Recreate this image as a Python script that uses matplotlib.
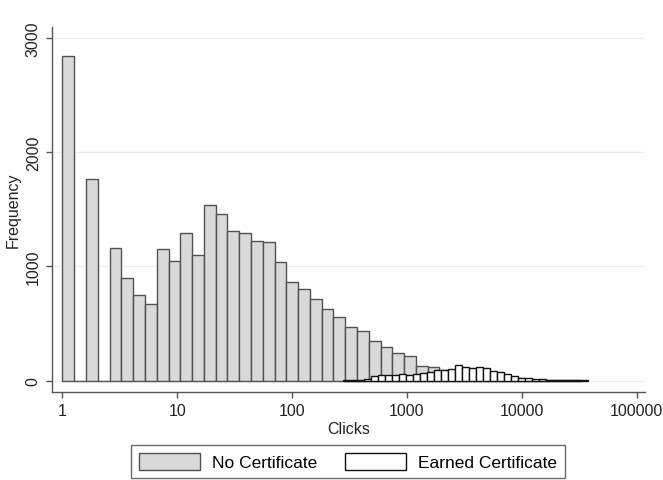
import numpy as np
import matplotlib
matplotlib.use("Agg")
import matplotlib.pyplot as plt
from matplotlib.patches import Patch

plt.rcParams["font.family"] = ["Liberation Sans", "DejaVu Sans"]

# histogram bins are in log10(clicks)
NO_CERT_START = 0.0
NO_CERT_WIDTH = 0.1026
no_cert_counts = [2840, 0, 1766, 0, 1159, 902, 748, 670, 1156, 1050,
                  1290, 1103, 1538, 1462, 1307, 1291, 1220, 1212, 1037, 868,
                  803, 715, 628, 555, 473, 438, 350, 292, 243, 219,
                  126, 124, 90, 75, 60, 50, 40, 30, 22, 15,
                  10, 6, 4, 2]

CERT_START = 2.443
CERT_WIDTH = 0.061
cert_counts = [3, 5, 10, 18, 40, 48, 50, 52, 55, 52,
               58, 65, 78, 90, 95, 105, 140, 118, 112, 120,
               115, 85, 72, 55, 40, 25, 20, 14, 12, 10,
               9, 7, 5, 4, 3]

xticks = [1, 10, 100, 1000, 10000, 100000]
yticks = [0, 1000, 2000, 3000]


def log_bins(start, width, n):
    edges = 10 ** (start + width * np.arange(n + 1))
    return edges[:-1], np.diff(edges)


fig = plt.figure(figsize=(6.63, 4.81), dpi=100)
ax = fig.add_axes([0.0784, 0.183, 0.8946, 0.759])

left, widths = log_bins(NO_CERT_START, NO_CERT_WIDTH, len(no_cert_counts))
ax.bar(left, no_cert_counts, widths, align="edge", color="#d9d9d9",
       edgecolor="#505050", linewidth=1.0, zorder=2)
left, widths = log_bins(CERT_START, CERT_WIDTH, len(cert_counts))
ax.bar(left, cert_counts, widths, align="edge", color="white",
       edgecolor="#111111", linewidth=1.0, zorder=3)

ax.set_xscale("log")
ax.set_xlim(10 ** -0.0915, 10 ** 5.074)
ax.set_ylim(-99, 3097)
ax.set_xticks(xticks)
ax.set_xticklabels([str(t) for t in xticks])
ax.minorticks_off()
ax.set_yticks(yticks)
ax.set_yticklabels([str(t) for t in yticks], rotation=90, va="center")
ax.grid(axis="y", color="#ececec", linewidth=1.0, zorder=0)

for s in ["top", "right"]:
    ax.spines[s].set_visible(False)
for s in ["left", "bottom"]:
    ax.spines[s].set_color("#555555")
    ax.spines[s].set_linewidth(1.0)
ax.tick_params(colors="#555555", labelcolor="#222222", labelsize=11.5,
               length=4.5, width=1.0)

ax.set_xlabel("Clicks", fontsize=11.5, color="#222222", labelpad=2)
ax.set_ylabel("Frequency", fontsize=11.5, color="#222222", labelpad=4)

handles = [Patch(facecolor="#d9d9d9", edgecolor="#505050", linewidth=1.0),
           Patch(facecolor="white", edgecolor="#111111", linewidth=1.0)]
leg = fig.legend(handles, ["No Certificate", "Earned Certificate"],
                 loc="lower center", bbox_to_anchor=(0.525, 0.004), ncol=2,
                 fontsize=12.5, frameon=True, fancybox=False,
                 borderaxespad=0.0,
                 handlelength=3.5, handleheight=1.1, handletextpad=0.7,
                 columnspacing=1.6, borderpad=0.45)
leg.get_frame().set_edgecolor("#444444")
leg.get_frame().set_linewidth(1.0)

fig.savefig("out.png", dpi=100)
